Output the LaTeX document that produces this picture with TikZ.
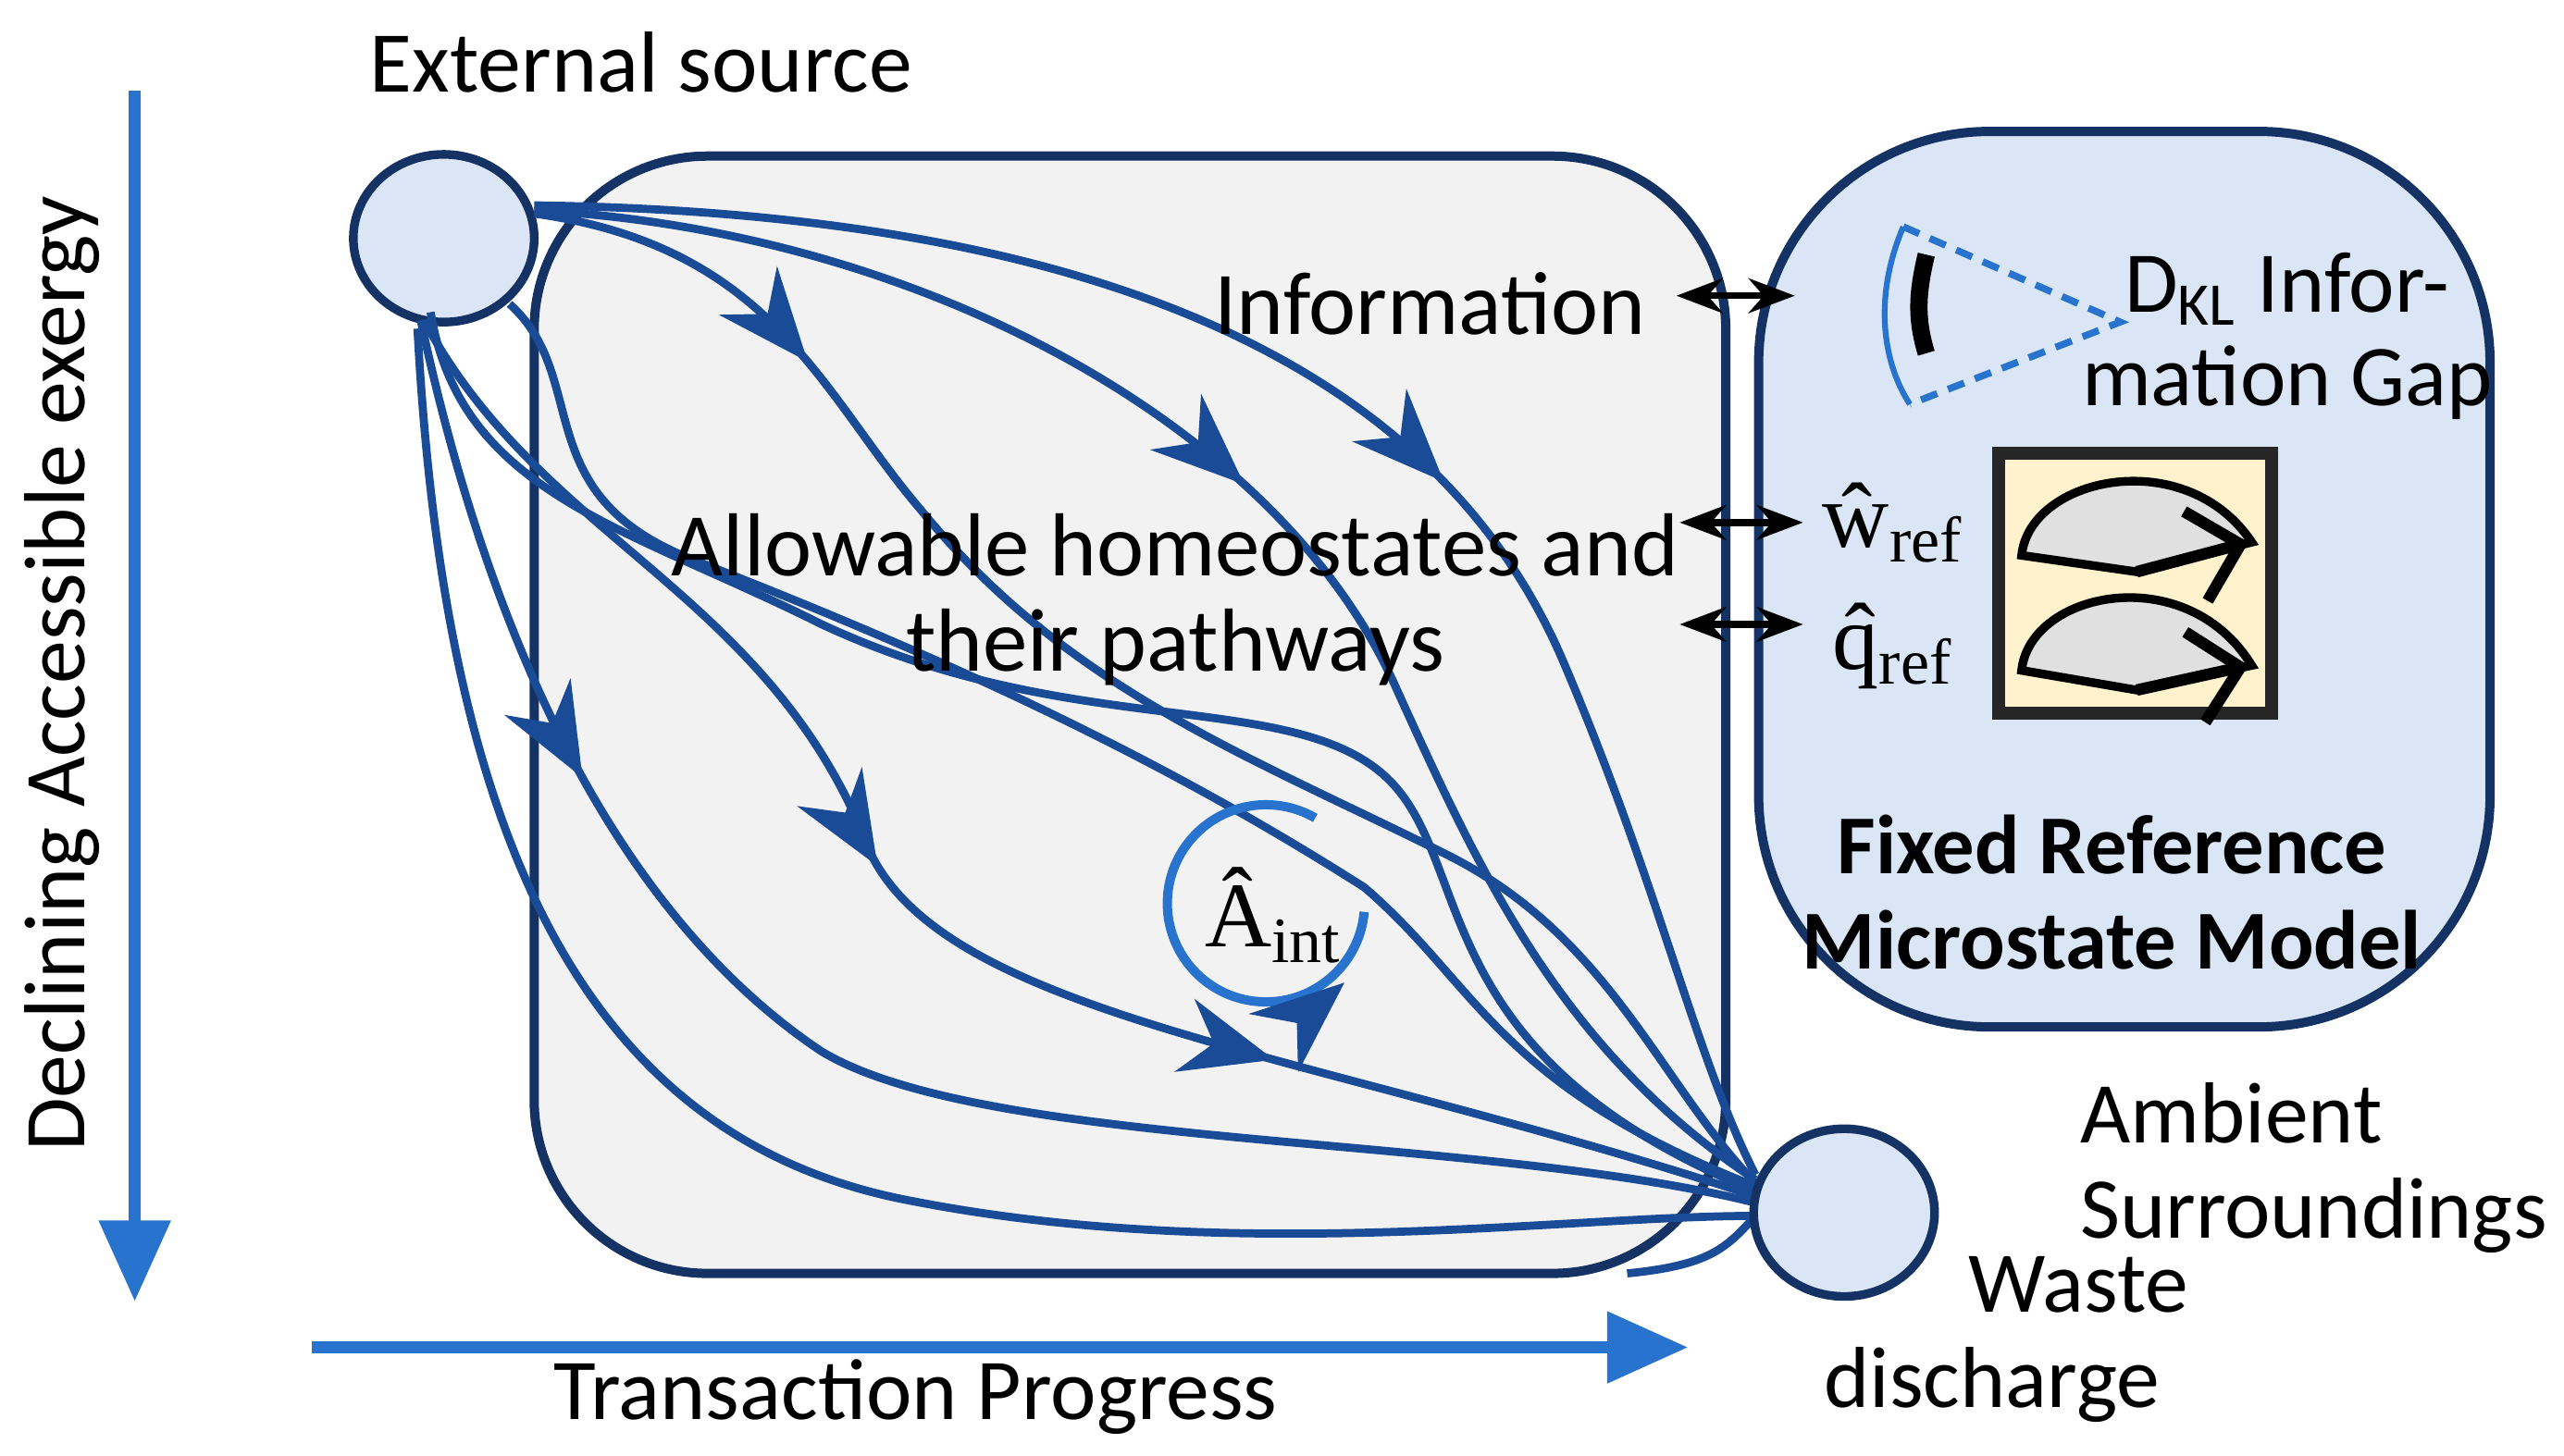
\documentclass[tikz,border=0pt]{standalone}
\usepackage{fontspec}
\setmainfont{Carlito}
\newfontfamily\serif{Liberation Serif}
\usetikzlibrary{arrows.meta,decorations.markings,shapes.geometric}
\definecolor{navy}{RGB}{20,50,100}
\definecolor{pblue}{RGB}{25,75,150}
\definecolor{ablue}{RGB}{40,115,205}
\definecolor{lblue}{RGB}{218,230,245}
\definecolor{boxgray}{RGB}{242,242,242}
\definecolor{ylw}{RGB}{255,242,204}
\tikzset{
  path/.style={draw=pblue,line width=1.4pt},
  marr/.style={path,postaction={decorate},decoration={markings,mark=at position #1 with {\arrow{Stealth[length=16pt,width=13pt]}}}},
  marr2/.style 2 args={path,postaction={decorate},decoration={markings,mark=at position #1 with {\arrow{Stealth[length=16pt,width=13pt]}},mark=at position #2 with {\arrow{Stealth[length=16pt,width=13pt]}}}},
  axis/.style={draw=ablue,line width=2pt,-{Triangle[length=14pt,width=12pt]}},
  dbl/.style={{Stealth[length=8pt]}-{Stealth[length=8pt]},line width=1.2pt},
  lbl/.style={font=\fontsize{15}{16.5}\selectfont,inner sep=0pt},
  blob/.style={draw=navy,line width=1.5pt,fill=lblue,ellipse,minimum width=1.1cm,minimum height=1.02cm,inner sep=0pt}
}
\begin{document}
\begin{tikzpicture}[x=0.01cm,y=-0.01cm]
\useasboundingbox (0,0) rectangle (1560,886);
% boxes
\path[draw=navy,line width=1.6pt,fill=boxgray,rounded corners=30pt] (325,95) rectangle (1050,775);
\path[draw=navy,line width=1.6pt,fill=lblue,rounded corners=40pt] (1070,80) rectangle (1515,625);
% axes
\coordinate (v1) at (82,55); \coordinate (v2) at (82,792);
\draw[axis] (v1) -- (v2);
\coordinate (h1) at (190,820); \coordinate (h2) at (1027,820);
\draw[axis] (h1) -- (h2);
\node[lbl,rotate=90] (ylab) at (38,410) {Declining Accessible exergy};
\node[lbl] (xlab) at (557,850) {Transaction Progress};
\node[lbl] (ext) at (390,38) {External source};
% source
\node[blob] (src) at (270,145) {};
% pathways
\path[marr=0.56] (325,125) .. controls (700,130) and (880,240) .. (950,400) .. controls (1010,540) and (1030,640) .. (1068,715);
\path[marr=0.47] (325,128) .. controls (560,140) and (780,260) .. (850,420) .. controls (900,530) and (950,640) .. (1068,718);
\path[marr=0.2] (325,130) .. controls (470,150) and (500,240) .. (560,310) .. controls (650,420) and (760,460) .. (880,520) .. controls (980,570) and (1010,660) .. (1068,720);
\path[path] (310,185) .. controls (360,230) and (320,300) .. (420,340) .. controls (600,410) and (720,470) .. (830,540) .. controls (900,600) and (910,660) .. (1068,722);
\path[path] (262,190) .. controls (280,300) and (380,320) .. (500,380) .. controls (650,450) and (780,420) .. (840,470) .. controls (900,520) and (860,640) .. (1068,725);
\path[marr2={0.43}{0.7}] (258,195) .. controls (330,330) and (470,360) .. (530,520) .. controls (580,620) and (800,640) .. (1068,728);
\path[marr=0.27] (256,195) .. controls (300,400) and (380,560) .. (500,640) .. controls (600,700) and (900,690) .. (1068,732);
\path[path] (254,200) .. controls (270,500) and (350,690) .. (550,730) .. controls (750,770) and (950,740) .. (1068,740);
\path[path] (1068,740) .. controls (1050,760) and (1040,770) .. (990,775);
\node[blob] (waste) at (1122,738) {};
% A_int
\draw[ablue,line width=1.6pt] (830,555) arc[start angle=5,end angle=300,radius=60];
\draw[pblue,line width=2pt,-{Stealth[length=16pt,width=13pt]}] (798,615) -- (818,598);
\node[font=\fontsize{16}{18}\selectfont\serif] (aint) at (775,557) {\^A\textsubscript{int}};
% texts
\node[lbl,font=\fontsize{15.5}{17}\selectfont] (info) at (870,185) {Information};
\node[lbl,align=center,font=\fontsize{15.5}{16.5}\selectfont] (allow) at (715,365) {Allowable homeostates and\\their pathways};
\coordinate (i1) at (1020,180); \coordinate (i2) at (1092,180);
\draw[dbl] (i1) -- (i2);
\coordinate (w1) at (1022,318); \coordinate (w2) at (1097,318);
\draw[dbl] (w1) -- (w2);
\coordinate (q1) at (1022,380); \coordinate (q2) at (1097,380);
\draw[dbl] (q1) -- (q2);
\node[font=\fontsize{16}{18}\selectfont\serif] (wref) at (1152,318) {\^w\textsubscript{ref}};
\node[font=\fontsize{16}{18}\selectfont\serif] (qref) at (1152,393) {\^q\textsubscript{ref}};
% DKL triangle
\draw[ablue,line width=1.2pt,densely dashed] (1158,138) -- (1290,196) -- (1162,246);
\draw[ablue,line width=1pt] (1158,138) .. controls (1140,180) and (1145,220) .. (1162,246);
\draw[black,line width=3pt] (1172,155) .. controls (1166,180) and (1166,195) .. (1172,215);
\node[lbl,anchor=west] (dkl) at (1292,176) {D\textsubscript{KL} Infor-};
\node[lbl,anchor=west] (gap) at (1266,233) {mation Gap};
% yellow box
\path[draw=black!85,line width=2.2pt,fill=ylw] (1216,276) rectangle (1382,434);
\path[draw=black,line width=1.5pt,fill=black!12] (1230,338) .. controls (1235,290) and (1330,270) .. (1370,330) -- (1300,348) -- cycle;
\draw[black,line width=2pt,-{Straight Barb[length=8pt]}] (1300,348) -- (1368,330);
\path[draw=black,line width=1.5pt,fill=black!12] (1230,408) .. controls (1235,360) and (1330,340) .. (1370,405) -- (1300,420) -- cycle;
\draw[black,line width=2pt,-{Straight Barb[length=8pt]}] (1300,420) -- (1368,405);
\node[lbl,align=center,font=\bfseries\fontsize{14.5}{16.5}\selectfont] (fixed) at (1285,543) {Fixed Reference\\Microstate Model};
\node[lbl,align=left,anchor=west] (amb) at (1265,711) {Ambient\\Surroundings};
\node[lbl,align=center] (wd) at (1212,815) {\hspace*{2em}Waste\\discharge};
\end{tikzpicture}
\end{document}
